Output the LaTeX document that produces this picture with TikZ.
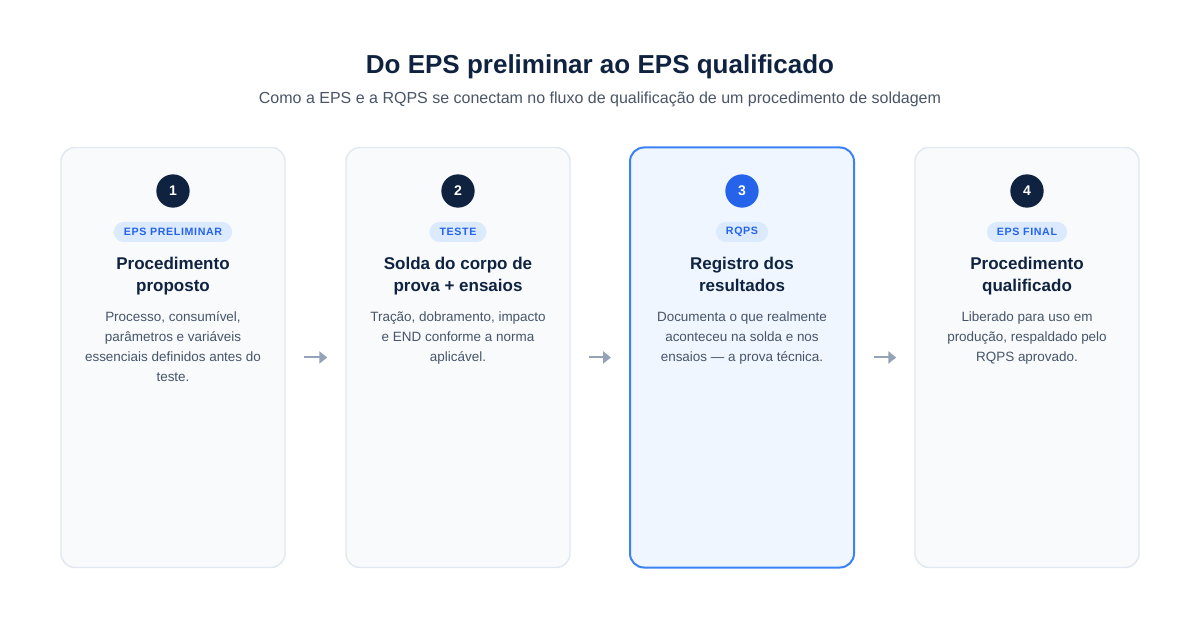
\documentclass[tikz,border=0pt]{standalone}
\usepackage{fontspec}
\setmainfont{Liberation Sans}
\usetikzlibrary{arrows.meta}

\definecolor{navy}{HTML}{0F2341}
\definecolor{bodygray}{HTML}{475569}
\definecolor{subgray}{HTML}{4A5568}
\definecolor{cardfill}{HTML}{F8FAFC}
\definecolor{cardline}{HTML}{E2E8F0}
\definecolor{hifill}{HTML}{EFF6FF}
\definecolor{hiline}{HTML}{3B82F6}
\definecolor{hiblue}{HTML}{2563EB}
\definecolor{badgefill}{HTML}{DBEAFE}
\definecolor{arrowgray}{HTML}{94A3B8}

\tikzset{
  card/.style={rectangle, rounded corners=10.5pt, draw=cardline, line width=1.1pt,
    fill=cardfill, minimum width=168pt, minimum height=315pt},
  hicard/.style={card, draw=hiline, line width=1.5pt, fill=hifill},
  num/.style={circle, fill=navy, text=white, minimum size=25pt, inner sep=0pt,
    font=\fontsize{10.5pt}{12pt}\selectfont\bfseries},
  hinum/.style={num, fill=hiblue},
  badge/.style={rectangle, rounded corners=7.5pt, fill=badgefill, text=hiblue,
    inner xsep=7.5pt, inner ysep=0pt, minimum height=15pt,
    font=\fontsize{8pt}{9pt}\selectfont\bfseries\addfontfeatures{LetterSpace=6}},
  head/.style={align=center, text=navy, inner sep=0pt,
    font=\fontsize{12.75pt}{16.5pt}\selectfont\bfseries},
  body/.style={align=center, text=bodygray, inner sep=0pt,
    font=\fontsize{10.1pt}{15pt}\selectfont},
  flow/.style={draw=arrowgray, line width=1.5pt, -{Triangle[length=6pt,width=9pt]},
    shorten <=14pt, shorten >=13.5pt}
}

\begin{document}
\begin{tikzpicture}[x=0.75pt, y=-0.75pt]
  \fill[white] (0,0) rectangle (1200,620);
  \useasboundingbox (0,0) rectangle (1200,620);

  % Title
  \node (title) at (600,67) [text=navy, font=\fontsize{19.5pt}{23pt}\selectfont\bfseries]
    {Do EPS preliminar ao EPS qualificado};
  \node (subtitle) at (600,99) [text=subgray, font=\fontsize{12pt}{14pt}\selectfont]
    {Como a EPS e a RQPS se conectam no fluxo de qualificação de um procedimento de soldagem};

  % Cards
  \node (card1) at (173,357.5) [card] {};
  \node (card2) at (458,357.5) [card] {};
  \node (card3) at (742,357.5) [hicard] {};
  \node (card4) at (1027,357.5) [card] {};

  % Step 1
  \node (num1) at (173,191) [num] {1};
  \node (tag1) at (173,232) [badge] {EPS PRELIMINAR};
  \node (head1) at (173,276) [head] {Procedimento\\proposto};
  \node (text1) at (173,347) [body] {Processo, consumível,\\parâmetros e variáveis\\essenciais definidos antes do\\teste.};

  % Step 2
  \node (num2) at (458,191) [num] {2};
  \node (tag2) at (458,232) [badge] {TESTE};
  \node (head2) at (458,276) [head] {Solda do corpo de\\prova + ensaios};
  \node (text2) at (458,338) [body] {Tração, dobramento, impacto\\e END conforme a norma\\aplicável.};

  % Step 3
  \node (num3) at (742,191) [hinum] {3};
  \node (tag3) at (742,232) [badge] {RQPS};
  \node (head3) at (742,274) [head] {Registro dos\\resultados};
  \node (text3) at (742,338) [body] {Documenta o que realmente\\aconteceu na solda e nos\\ensaios — a prova técnica.};

  % Step 4
  \node (num4) at (1027,191) [num] {4};
  \node (tag4) at (1027,232) [badge] {EPS FINAL};
  \node (head4) at (1027,276) [head] {Procedimento\\qualificado};
  \node (text4) at (1027,338) [body] {Liberado para uso em\\produção, respaldado pelo\\RQPS aprovado.};

  % Edges
  \draw[flow] (card1) -- (card2);
  \draw[flow] (card2) -- (card3);
  \draw[flow] (card3) -- (card4);
\end{tikzpicture}
\end{document}
